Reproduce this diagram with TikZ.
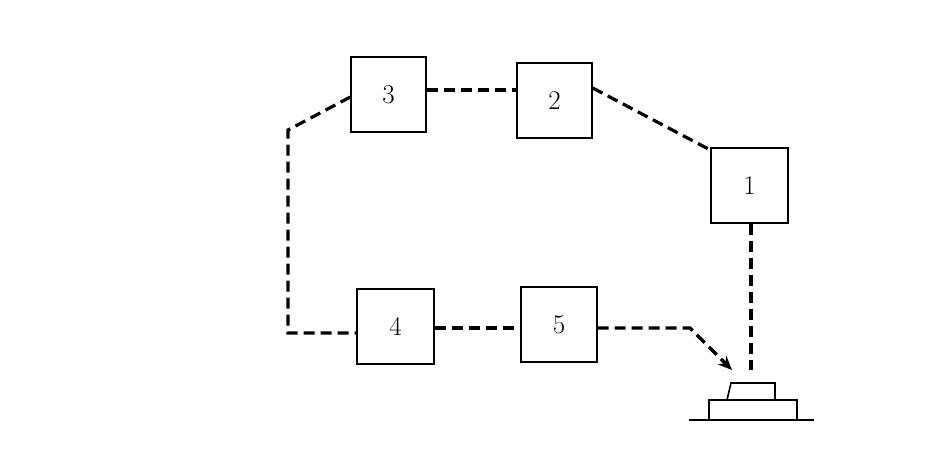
\documentclass[tikz,border=0pt]{standalone}
\usetikzlibrary{arrows.meta}
\begin{document}
\begin{tikzpicture}[x=1pt,y=-1pt,
  box/.style={draw,line width=1.4pt,minimum width=75pt,minimum height=75pt,inner sep=0pt,font=\fontsize{27}{30}\selectfont},
  dl/.style={line width=3.2pt,dash pattern=on 11pt off 6pt},
  sl/.style={line width=1.6pt}]
\useasboundingbox (0,0) rectangle (940,451);
\node[box] (n3) at (388.5,94.5) {3};
\node[box] (n2) at (554.5,100.5) {2};
\node[box,minimum width=77pt] (n1) at (749.5,185.5) {1};
\node[box,minimum width=77pt] (n4) at (395.5,326.5) {4};
\node[box,minimum width=76pt] (n5) at (559,324.5) {5};
\coordinate (c1) at (288,130);
\coordinate (c2) at (288,333);
\coordinate (c3) at (690,328);
\coordinate (tip) at (732,370);
\coordinate (t1) at (751,370);
\draw[dl] (n3.west |- 0,97) -- (c1) -- (c2) -- (n4.west |- c2);
\draw[dl] (n3.east |- 0,90) -- (n2.west |- 0,90);
\draw[dl] (n2.east |- 0,88) -- (n1.north west |- 0,150);
\draw[dl] (n1.south -| t1) -- (t1);
\draw[dl] (n4.east |- 0,328) -- (n5.west |- 0,328);
\draw[dl,-{Stealth[length=14pt,width=12pt]}] (n5.east |- 0,328) -- (c3) -- (tip);
\draw[sl] (727,400) -- (731,383) -- (775,383) -- (775,400);
\draw[sl] (709,420) -- (709,400) -- (797,400) -- (797,420);
\draw[sl] (689,420) -- (814,420);
\end{tikzpicture}
\end{document}
